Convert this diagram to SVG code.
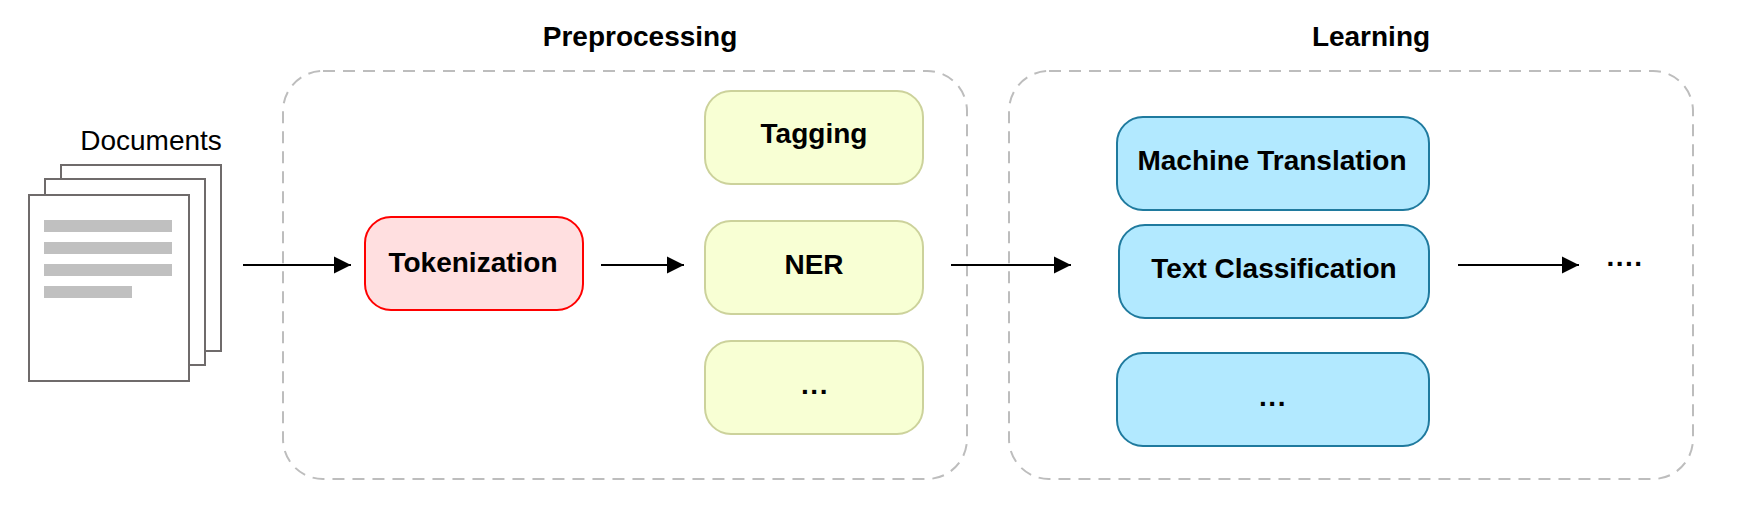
<svg xmlns="http://www.w3.org/2000/svg" width="1748" height="514" viewBox="0 0 1748 514">
<defs>
<style>
text{font-family:"Liberation Sans",Arial,sans-serif;fill:#000;text-anchor:middle}
.b{font-weight:bold;font-size:28px}
.dots{letter-spacing:1.5px}
.panel{fill:none;stroke:#bdbdbd;stroke-width:2;stroke-dasharray:12 8}
.page{fill:#fff;stroke:#6f6b6b;stroke-width:2}
.ln{fill:#c0c0c0}
.red{fill:#ffdfe0;stroke:#f00;stroke-width:2}
.yel{fill:#f8ffd4;stroke:#ccd29b;stroke-width:2}
.blu{fill:#b2e9ff;stroke:#1f7a9e;stroke-width:2}
.conn{stroke:#000;stroke-width:2;fill:none;marker-end:url(#a)}
</style>
<marker id="a" markerUnits="userSpaceOnUse" markerWidth="18" markerHeight="18" refX="17" refY="9" orient="auto"><path d="M0 0.5L17 9L0 17.5Z" fill="#000"/></marker>
</defs>
<rect width="1748" height="514" fill="#fff"/>
<g id="preprocessing"><rect class="panel" x="283" y="71" width="684" height="408" rx="40"/><text class="b" x="640" y="46">Preprocessing</text></g>
<g id="learning"><rect class="panel" x="1009" y="71" width="684" height="408" rx="40"/><text class="b" x="1371" y="46">Learning</text></g>
<g id="documents">
<rect class="page" x="61" y="165" width="160" height="186"/>
<rect class="page" x="45" y="179" width="160" height="186"/>
<rect class="page" x="29" y="195" width="160" height="186"/>
<rect class="ln" x="44" y="220" width="128" height="12"/>
<rect class="ln" x="44" y="242" width="128" height="12"/>
<rect class="ln" x="44" y="264" width="128" height="12"/>
<rect class="ln" x="44" y="286" width="88" height="12"/>
<text x="151" y="150" font-size="28">Documents</text>
</g>
<g id="connectors">
<line class="conn" x1="243" y1="265" x2="351" y2="265"/>
<line class="conn" x1="601" y1="265" x2="684" y2="265"/>
<line class="conn" x1="951" y1="265" x2="1071" y2="265"/>
<line class="conn" x1="1458" y1="265" x2="1579" y2="265"/>
</g>
<g id="tokenization"><rect class="red" x="365" y="217" width="218" height="93" rx="26"/><text class="b" x="473" y="272">Tokenization</text></g>
<g id="tagging"><rect class="yel" x="705" y="91" width="218" height="93" rx="26"/><text class="b" x="814" y="143">Tagging</text></g>
<g id="ner"><rect class="yel" x="705" y="221" width="218" height="93" rx="26"/><text class="b" x="814" y="274">NER</text></g>
<g id="more-pre"><rect class="yel" x="705" y="341" width="218" height="93" rx="26"/><text class="b dots" x="815" y="394">...</text></g>
<g id="machine-translation"><rect class="blu" x="1117" y="117" width="312" height="93" rx="26"/><text class="b" x="1272" y="170">Machine Translation</text></g>
<g id="text-classification"><rect class="blu" x="1119" y="225" width="310" height="93" rx="26"/><text class="b" x="1274" y="278">Text Classification</text></g>
<g id="more-learn"><rect class="blu" x="1117" y="353" width="312" height="93" rx="26"/><text class="b dots" x="1273" y="406">...</text></g>
<g id="more-end"><text class="b dots" x="1625" y="266">....</text></g>
</svg>
